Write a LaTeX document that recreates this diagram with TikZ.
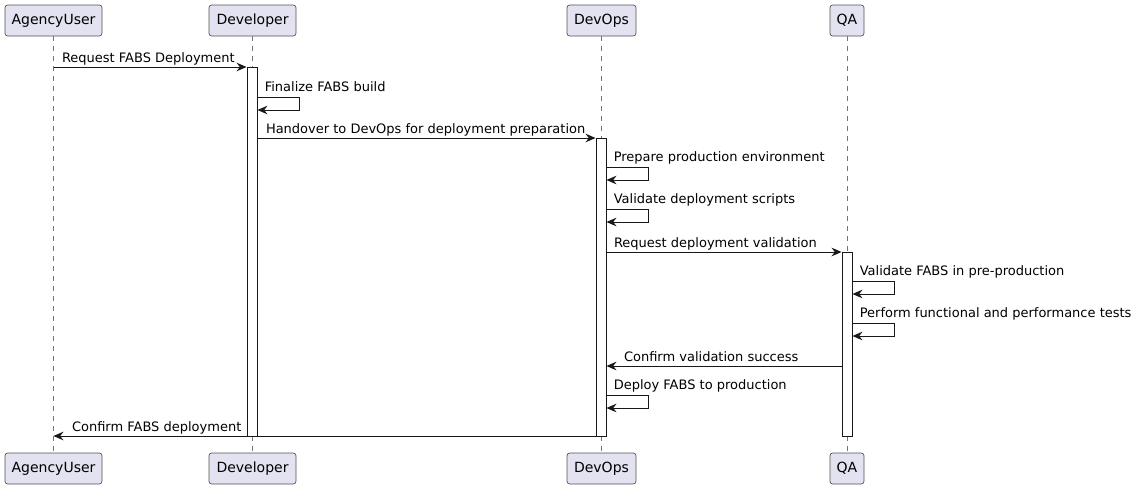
\documentclass[tikz,border=0pt]{standalone}
\usepackage{fontspec}
\setmainfont{DejaVu Sans}
\usetikzlibrary{positioning, arrows.meta, calc}
\definecolor{umlfill}{HTML}{E2E2F0}
\definecolor{umlline}{HTML}{181818}

\begin{document}
\begin{tikzpicture}[x=0.75pt, y=-0.75pt,
    >={Stealth[length=7.5pt, width=6.5pt, inset=2.5pt]},
    actor/.style={draw=umlline!75, line width=0.5pt, fill=umlfill, rounded corners=2pt, minimum height=23.25pt,
        inner sep=0pt, font=\fontsize{10.5}{12}\selectfont},
    life/.style={draw=umlline!60, line width=0.5pt, dash pattern=on 3.75pt off 3.75pt},
    actbar/.style={draw=umlline, fill=white, line width=0.75pt, minimum width=7.5pt, inner sep=0pt},
    msg/.style={draw=umlline, line width=0.75pt, ->},
    lbl/.style={font=\fontsize{9.75}{11}\selectfont, inner sep=0pt, anchor=base west}]
    \useasboundingbox (0,0) rectangle (1137,489);

    % participants, top and bottom
    \node[actor, minimum width=72.75pt] (au) at (53.5,20.5) {AgencyUser};
    \node[actor, minimum width=65.25pt] (dev) at (252.5,20.5) {Developer};
    \node[actor, minimum width=51.75pt] (ops) at (601.5,20.5) {DevOps};
    \node[actor, minimum width=25.5pt] (qa) at (847,20.5) {QA};
    \node[actor, minimum width=72.75pt] (au2) at (53.5,468.5) {AgencyUser};
    \node[actor, minimum width=65.25pt] (dev2) at (252.5,468.5) {Developer};
    \node[actor, minimum width=51.75pt] (ops2) at (601.5,468.5) {DevOps};
    \node[actor, minimum width=25.5pt] (qa2) at (847,468.5) {QA};

    % lifelines
    \foreach \p in {au, dev, ops, qa}
        \draw[life] (\p.south) -- (\p2.north);

    % activations
    \node[actbar, minimum height=276.75pt] (devact) at (252,251.5) {};
    \node[actbar, minimum height=223.5pt] (opsact) at (601,287) {};
    \node[actbar, minimum height=138pt] (qaact) at (847,344) {};

    % messages
    \coordinate (m1) at (au.center |- 0,67);
    \coordinate (m3) at (devact.east |- 0,138);
    \coordinate (m6) at (opsact.east |- 0,252);
    \coordinate (m9) at (qaact.west |- 0,366);
    \coordinate (m11) at (opsact.west |- 0,436);

    \draw[msg] (m1) -- (devact.west |- m1)
        node[lbl] at ($(m1)+(8,-4.5)$) {Request FABS Deployment};
    \draw[msg] (m3) -- (opsact.west |- m3)
        node[lbl] at ($(m3)+(8,-4.5)$) {Handover to DevOps for deployment preparation};
    \draw[msg] (m6) -- (qaact.west |- m6)
        node[lbl] at ($(m6)+(7,-4.5)$) {Request deployment validation};
    \draw[msg] (m9) -- (opsact.east |- m9)
        node[lbl] at ($(opsact.east |- m9)+(17,-4.5)$) {Confirm validation success};
    \draw[msg] (m11) -- (au.center |- m11)
        node[lbl] at ($(au.center |- m11)+(18,-4.5)$) {Confirm FABS deployment};

    % self messages
    \foreach \bar/\y/\txt in {devact/97/Finalize FABS build,
            opsact/167/Prepare production environment,
            opsact/209/Validate deployment scripts,
            qaact/281/Validate FABS in pre-production,
            qaact/323/Perform functional and performance tests,
            opsact/395/Deploy FABS to production} {
        \coordinate (s) at (\bar.east |- 0,\y);
        \draw[msg] (s) -- ++(42,0) -- ++(0,13) -- ($(s)+(0,13)$);
        \node[lbl] at ($(s)+(7,-5.5)$) {\txt};
    }
\end{tikzpicture}
\end{document}
